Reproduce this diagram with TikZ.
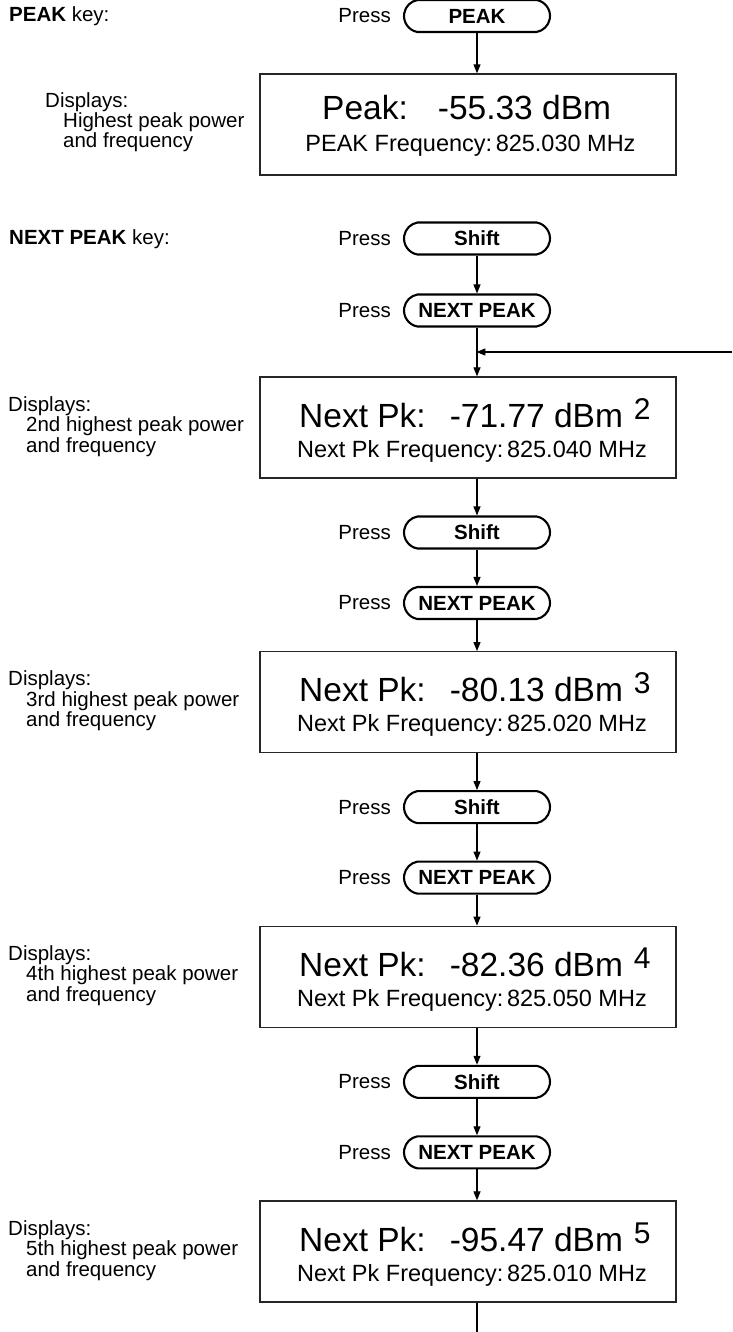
\documentclass[tikz,border=0pt]{standalone}
\usepackage{fontspec}
\setmainfont{Liberation Sans}
\usetikzlibrary{shapes.misc,arrows.meta}

\tikzset{
  lbl/.style={inner sep=0pt, anchor=base west, font=\fontsize{20.5}{24}\selectfont},
  press/.style={inner sep=0pt, anchor=east, font=\fontsize{20.5}{24}\selectfont},
  keybtn/.style={rounded rectangle, rounded rectangle arc length=160, draw=black,
    line width=2.1pt, minimum width=146pt, minimum height=32pt, inner sep=0pt,
    font=\fontsize{20.5}{24}\selectfont\bfseries},
  display/.style={rectangle, draw=black!85, line width=1.3pt, minimum width=416pt,
    minimum height=101pt, inner sep=0pt},
  bigtxt/.style={inner sep=0pt, anchor=base west, font=\fontsize{33.5}{36}\selectfont},
  freqtxt/.style={inner sep=0pt, anchor=base, font=\fontsize{23.5}{26}\selectfont},
  arr/.style={line width=1.1pt, -{Triangle[length=9pt,width=7pt]}},
  wire/.style={line width=1.1pt},
}

\begin{document}
\begin{tikzpicture}[x=1pt,y=-1pt]
\useasboundingbox (0,0) rectangle (732,1332);

% ---- PEAK key ----
\node[lbl] (peakkey) at (9,22) {\textbf{PEAK} key:};
\node[keybtn] (peak) at (477,16) {PEAK};
\node[press] (ppeak) at (391,16) {Press};

\node[display] (box1) at (468,124.5) {};
\node[bigtxt] (b1a) at (322,120) {Peak:\hspace{30pt}-55.33 dBm};
\node[freqtxt] (b1b) at (470.5,152) {PEAK Frequency:\kern-3pt\ 825.030 MHz};
\node[lbl] (d1a) at (45,108) {Displays:};
\node[lbl] (d1b) at (63,128) {Highest peak power};
\node[lbl] (d1c) at (63,148) {and frequency};
\draw[arr] (peak.south) -- (peak.south |- box1.north);

% ---- NEXT PEAK key ----
\node[lbl] (npkey) at (9,245) {\textbf{NEXT PEAK} key:};
\node[keybtn] (sh2) at (477,238.5) {Shift};
\node[press] (psh2) at (391,238.5) {Press};
\node[keybtn] (np2) at (477,310.5) {NEXT PEAK};
\node[press] (pnp2) at (391,310.5) {Press};

% display boxes for successive peaks
\foreach \k/\T/\ord/\val/\fq in {2/377/2nd/-71.77/825.040,
                                  3/651.7/3rd/-80.13/825.020,
                                  4/926.3/4th/-82.36/825.050,
                                  5/1201/5th/-95.47/825.010}{
  \node[display] (box\k) at (468,\T+50.5) {};
  \node[bigtxt] (bxa\k) at (299,\T+50)
    {Next Pk:\hspace{24pt}\val\ dBm\hspace{11pt}\raisebox{8pt}{\fontsize{30}{30}\selectfont\k}};
  \node[freqtxt] (bxb\k) at (472,\T+80) {Next Pk Frequency:\kern-3pt\ \fq\ MHz};
  \node[lbl] (dxa\k) at (8,\T+34) {Displays:};
  \node[lbl] (dxb\k) at (26,\T+54.5) {\ord\ highest peak power};
  \node[lbl] (dxc\k) at (26,\T+75) {and frequency};
}

% first key sequence and the loop-back entry
\draw[arr] (sh2.south) -- (np2.north);
\draw[arr] (np2.south) -- (np2.south |- box2.north);
\coordinate (loopin) at (732,352);
\coordinate (join) at (477,352);
\draw[arr, shorten >=-0.6pt] (loopin) -- (join);

% repeated Shift / NEXT PEAK presses
\foreach \k/\T [evaluate=\k as \p using int(\k-1)] in {3/651.7, 4/926.3, 5/1201}{
  \node[keybtn] (sh\k) at (477,\T-119.2) {Shift};
  \node[press] (psh\k) at (391,\T-119.2) {Press};
  \node[keybtn] (np\k) at (477,\T-48.7) {NEXT PEAK};
  \node[press] (pnp\k) at (391,\T-48.7) {Press};
  \draw[arr] (sh\k.north |- box\p.south) -- (sh\k.north);
  \draw[arr] (sh\k.south) -- (np\k.north);
  \draw[arr] (np\k.south) -- (np\k.south |- box\k.north);
}

% continuation below the last display
\coordinate (tail) at (477,1332);
\draw[wire] (tail |- box5.south) -- (tail);
\end{tikzpicture}
\end{document}
